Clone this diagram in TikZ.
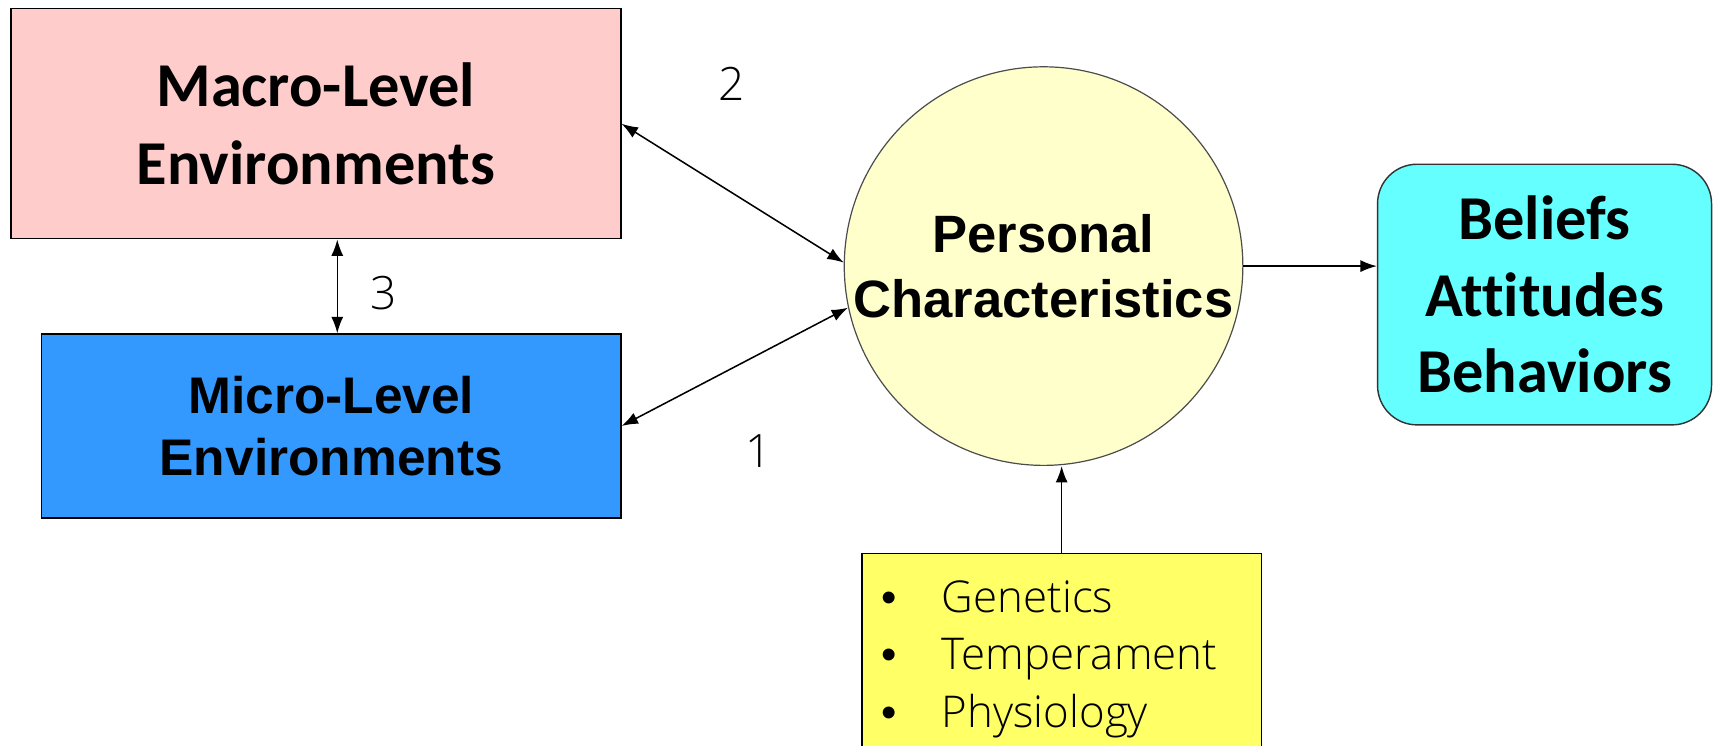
\documentclass[tikz,border=0pt]{standalone}
\usepackage{fontspec}
\setmainfont{Liberation Sans}
\newfontfamily\calfont{Carlito}[Ligatures=NoCommon]
\newfontfamily\arifont{Liberation Sans}
\IfFontExistsTF{Open Sans Light}{\newfontfamily\segfont{Open Sans Light}}{\newfontfamily\segfont{Open Sans}}
\usetikzlibrary{arrows.meta}
\definecolor{macrofill}{RGB}{255,204,204}
\definecolor{microfill}{RGB}{51,153,255}
\definecolor{pcfill}{RGB}{255,255,204}
\definecolor{belfill}{RGB}{102,255,255}
\definecolor{yelfill}{RGB}{255,255,102}
\newcommand{\mybul}{\makebox[55pt][l]{\arifont •}}
\begin{document}
\begin{tikzpicture}[x=1pt,y=-1pt,
  box/.style={draw=black,line width=1.3pt,inner sep=0pt,align=center},
  conn/.style={line width=1.4pt,-{Latex[length=15pt,width=11pt]}},
  biconn/.style={line width=1.4pt,{Latex[length=15pt,width=11pt]}-{Latex[length=15pt,width=11pt]}},
  num/.style={font=\segfont\fontsize{42}{48}\selectfont,inner sep=0pt}]
\useasboundingbox (0,0) rectangle (1568,681);
\clip (0,0) rectangle (1568,681);
\node[box,fill=macrofill,minimum width=557pt,minimum height=210pt,
  font=\calfont\bfseries\fontsize{57}{71}\selectfont] (macro) at (288.5,113) {Macro-Level\\Environments};
\node[box,fill=microfill,minimum width=529pt,minimum height=168pt,
  font=\arifont\bfseries\fontsize{47}{57}\selectfont] (micro) at (302.5,389) {Micro-Level\\Environments};
\node[circle,draw=black!70,line width=1.1pt,fill=pcfill,minimum size=364pt,inner sep=0pt,align=center,
  font=\arifont\bfseries\fontsize{48}{59}\selectfont] (pc) at (953,243) {Personal\\Characteristics};
\node[box,draw=black!80,fill=belfill,rounded corners=36pt,minimum width=305pt,minimum height=238pt,
  font=\calfont\bfseries\fontsize{57}{70}\selectfont] (bel) at (1410.5,269) {Beliefs\\Attitudes\\Behaviors};
\node[box,fill=yelfill,minimum width=365pt,minimum height=200pt,anchor=north] (yel) at (969.5,505) {};
\node[inner sep=0pt,anchor=north west,align=left,font=\segfont\fontsize{40}{52.5}\selectfont] (list) at (805,530)
  {\mybul Genetics\\\mybul Temperament\\\mybul Physiology};
\coordinate (vx) at (308,260);
\draw[biconn] (macro.east) -- (pc.179);
\draw[biconn] (micro.east) -- (pc.192);
\draw[biconn] (vx |- macro.south) -- (vx |- micro.north);
\draw[conn] (pc.east) -- (pc.east -| bel.west);
\draw[conn] (yel.north) -- (yel.north |- pc.south);
\node[num] (n2) at (668,77) {2};
\node[num] (n3) at (350,268) {3};
\node[num] (n1) at (693,412) {1};
\end{tikzpicture}
\end{document}
